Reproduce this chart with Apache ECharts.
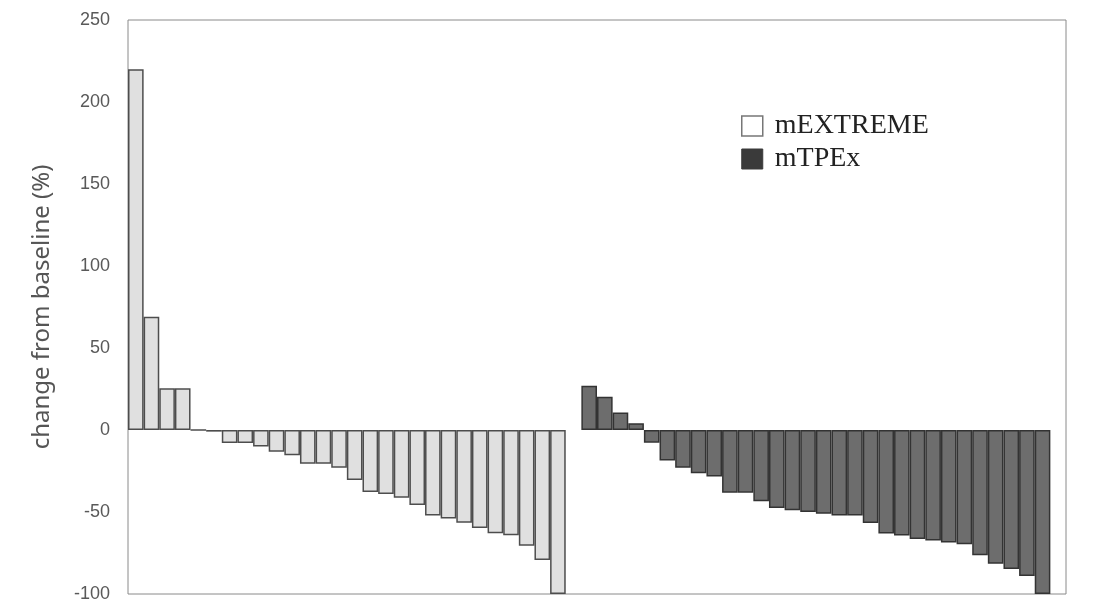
<!DOCTYPE html>
<html>
<head>
<meta charset="utf-8">
<script src="https://cdn.jsdelivr.net/npm/echarts@6/dist/echarts.min.js"></script>
<style>
html,body{margin:0;padding:0;background:#fff;}
#chart{width:1098px;height:612px;}
</style>
</head>
<body>
<div id="chart"></div>
<script>
// Values (change from baseline, %)
const mEXTREME = [220, 69, 25.5, 25.5, 0, -1, -8, -8, -10, -13.3, -15.4, -20.6, -20.6, -23, -30.5,
  -37.8, -39, -41.3, -45.7, -52.2, -54, -56.5, -59.7, -63, -64.2, -70.6, -79.3, -100];
const mTPEx = [27, 20.3, 10.6, 4.1, -7.7, -18.6, -23, -26.3, -28.3, -38.2, -38.2, -43.5, -47.5, -49, -50,
  -51, -52.2, -52.2, -56.7, -63.1, -64.4, -66.4, -67.4, -68.6, -69.6, -76.3, -81.6, -84.8, -89.1, -100];
const yTicks = {min: -100, max: 250, interval: 50};
const seriesNames = ['mEXTREME', 'mTPEx'];
const axisName = 'change from baseline (%)';

// layout: group 1, one empty slot, group 2, one empty slot
const nSlots = mEXTREME.length + 1 + mTPEx.length + 1;
const categories = Array.from({length: nSlots}, (_, i) => String(i + 1));
const dataA = categories.map((_, i) => i < mEXTREME.length ? mEXTREME[i] : null);
const offB = mEXTREME.length + 1;
const dataB = categories.map((_, i) => (i >= offB && i < offB + mTPEx.length) ? mTPEx[i - offB] : null);

const chart = echarts.init(document.getElementById('chart'));
chart.setOption({
  animation: false,
  backgroundColor: '#ffffff',
  grid: {left: 128, right: 32, top: 20, bottom: 18, show: true, borderColor: '#8a8a8a', borderWidth: 1, backgroundColor: 'transparent'},
  legend: {
    orient: 'vertical', left: 741, top: 112, padding: 0,
    itemWidth: 21, itemHeight: 20, itemGap: 5,
    icon: 'rect',
    textStyle: {fontFamily: 'Liberation Serif', fontSize: 28, color: '#222', padding: [0, 0, 0, 7]},
    data: [
      {name: seriesNames[0], itemStyle: {color: '#ffffff', borderColor: '#777', borderWidth: 1.5}},
      {name: seriesNames[1], itemStyle: {color: '#3a3a3a', borderColor: '#3a3a3a', borderWidth: 1}}
    ]
  },
  xAxis: {
    type: 'category', data: categories,
    axisLine: {show: false}, axisTick: {show: false}, axisLabel: {show: false}, splitLine: {show: false}
  },
  yAxis: {
    type: 'value', min: yTicks.min, max: yTicks.max, interval: yTicks.interval,
    axisLine: {show: false}, axisTick: {show: false}, splitLine: {show: false},
    axisLabel: {color: '#595959', fontSize: 18, fontFamily: 'Liberation Sans', margin: 18},
    name: axisName, nameLocation: 'middle', nameGap: 74,
    nameTextStyle: {color: '#555', fontSize: 24, fontFamily: 'Noto Sans'}
  },
  series: [
    {name: seriesNames[0], type: 'bar', data: dataA, barGap: '-100%', barCategoryGap: 0,
     itemStyle: {color: '#e0e0e0', borderColor: '#4d4d4d', borderWidth: 1.5}},
    {name: seriesNames[1], type: 'bar', data: dataB, barGap: '-100%', barCategoryGap: 0,
     itemStyle: {color: '#6d6d6d', borderColor: '#333333', borderWidth: 1.5}}
  ]
});
</script>
</body>
</html>
